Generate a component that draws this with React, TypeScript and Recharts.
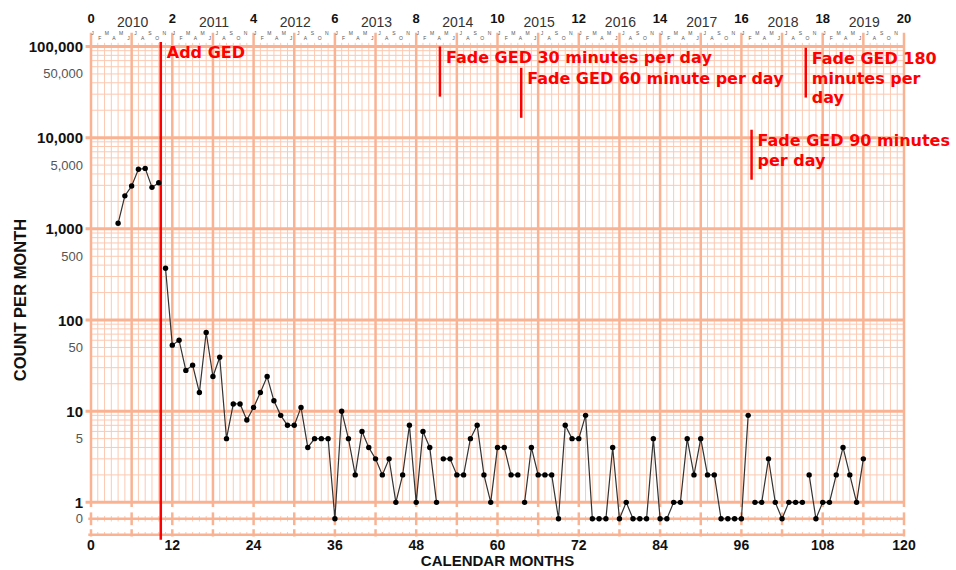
import React from 'react';
import { ComposedChart, Line, XAxis, YAxis, ReferenceLine } from 'recharts';

// monthly counts, first value is month 4 (May 2010)
const firstMonth = 4;
const counts = [
  1150, 2300, 2950, 4500, 4600, 2850, 3200, // baseline
  370, 53, 60, 28, 32, 16, 73, 24, 39, 5, 12, 12, 8, 11, 16, 24, 13, 9, 7, 7, 11, 4, 5, 5, 5,
  0, 10, 5, 2, 6, 4, 3, 2, 3, 1, 2, 7, 1, 6, 4, 1, // Add GED
  3, 3, 2, 2, 5, 7, 2, 1, 4, 4, 2, 2, // fade 30
  1, 4, 2, 2, 2, 0, 7, 5, 5, 9, 0, 0, 0, 4, 0, 1, 0, 0, 0, 5, 0, 0, 1, 1, 5, 2, 5, 2, 2, 0, 0, 0, 0, 9, // fade 60
  1, 1, 3, 1, 0, 1, 1, 1, // fade 90
  2, 0, 1, 1, 2, 4, 2, 1, 3, // fade 180
];
// first month of each new phase
const phaseStarts = [11, 52, 64, 98, 106];
const phaseLineMonths = [10.3, 51.5, 63.5, 97.5, 105.5];
const phaseLabels = [
  ['Add GED'],
  ['Fade GED 30 minutes per day'],
  ['Fade GED 60 minute per day'],
  ['Fade GED 90 minutes', 'per day'],
  ['Fade GED 180', 'minutes per', 'day'],
];
const years = ['2010', '2011', '2012', '2013', '2014', '2015', '2016', '2017', '2018', '2019'];
const monthLetters = ['J', 'F', 'M', 'A', 'M', 'J', 'J', 'A', 'S', 'O', 'N'];
const xTicks = [0, 12, 24, 36, 48, 60, 72, 84, 96, 108, 120];
const yMajor = [1, 10, 100, 1000, 10000, 100000];
const yMinor = [5, 50, 500, 5000, 50000];

const ZERO = -0.18;
const YMIN = -0.38;
const BOTTOM = -0.355;
const tf = (v: number) => (v === 0 ? ZERO : Math.log10(v));

// vertical extent of each phase-change line (log units)
const phaseLineSpan = [
  [5.05, -0.41],
  [5, 4.45],
  [4.766, 4.218],
  [4.087, 3.539],
  [4.986, 4.44],
];

const rows = Array.from({ length: 121 }, (_, m) => {
  const row: Record<string, number> = { m };
  const i = m - firstMonth;
  if (i >= 0 && i < counts.length) {
    const phase = phaseStarts.filter((s) => m >= s).length;
    row['p' + phase] = tf(counts[i]);
  }
  return row;
});

const THICK = '#f9b393';
const THIN = '#fcc9b2';
const FONT = '"Liberation Sans", Arial, sans-serif';

const yTicks = [ZERO, ...yMajor.map(tf), ...yMinor.map(tf)].sort((a, b) => a - b);
const topTicks = Array.from({ length: 121 }, (_, m) => m);

const horizThin: number[] = [];
for (let d = 0; d < 5; d++) for (let k = 2; k <= 9; k++) horizThin.push(Math.log10(k * 10 ** d));

function YTick(props: any) {
  const v = props.payload.value;
  const isZero = Math.abs(v - ZERO) < 1e-6;
  const n = Math.round(10 ** v);
  const major = !isZero && yMajor.includes(n);
  return (
    <text
      x={83}
      y={props.y + (major ? 5.5 : 4.5)}
      textAnchor="end"
      fontFamily={FONT}
      fontSize={major ? 15 : 13}
      fontWeight={major ? 'bold' : 'normal'}
      fill={major ? '#111' : '#555'}
    >
      {isZero ? '0' : n.toLocaleString('en-US')}
    </text>
  );
}

function TopTick(props: any) {
  const m = props.payload.value;
  const x = props.x;
  const idx = m % 12;
  return (
    <g>
      {idx === 0 && (
        <text x={x} y={23} textAnchor="middle" fontFamily={FONT} fontSize={13} fontWeight="bold" fill="#111">
          {m / 6}
        </text>
      )}
      {m < 120 && idx < 11 && (
        <text
          x={x + 1.5 + idx * 0.4}
          y={idx % 2 === 0 ? 35 : 40}
          textAnchor="middle"
          fontFamily={FONT}
          fontSize={5}
          fill="#555"
        >
          {monthLetters[idx]}
        </text>
      )}
      {idx === 6 && (
        <text x={x + 1} y={27} textAnchor="middle" fontFamily={FONT} fontSize={14} fill="#333">
          {years[Math.floor(m / 12)]}
        </text>
      )}
    </g>
  );
}

function BottomTick(props: any) {
  return (
    <text x={props.x} y={550} textAnchor="middle" fontFamily={FONT} fontSize={14} fontWeight="bold" fill="#111">
      {props.payload.value}
    </text>
  );
}

function phaseLabel(lines: string[]) {
  return (p: any) => {
    const vb = p.viewBox || {};
    return (
      <text
        x={vb.x + 6}
        y={vb.y + 16.5}
        fontFamily='"DejaVu Sans", Verdana, sans-serif'
        fontSize={16}
        fontWeight="bold"
        fill="#ff0000"
      >
        {lines.map((t, i) => (
          <tspan key={i} x={vb.x + 6} dy={i === 0 ? 0 : 19.5}>
            {t}
          </tspan>
        ))}
      </text>
    );
  };
}

export default function App() {
  return (
    <div style={{ position: 'absolute', left: 0, top: 0, width: 956, height: 570, background: '#fff' }}>
      <ComposedChart width={956} height={570} data={rows} margin={{ top: 0, right: 52, bottom: 0, left: 0 }}>
        <XAxis
          dataKey="m"
          type="number"
          domain={[0, 120]}
          ticks={xTicks}
          interval={0}
          height={33}
          axisLine={false}
          tickLine={false}
          tick={<BottomTick />}
          allowDataOverflow
          label={{
            content: () => (
              <text x={497.5} y={566} textAnchor="middle" fontFamily={FONT} fontSize={15} fontWeight="bold" fill="#111">
                CALENDAR MONTHS
              </text>
            ),
          }}
        />
        <XAxis
          xAxisId="top"
          orientation="top"
          dataKey="m"
          type="number"
          domain={[0, 120]}
          ticks={topTicks}
          interval={0}
          height={46.5}
          axisLine={false}
          tickLine={false}
          tick={<TopTick />}
          allowDataOverflow
        />
        <YAxis
          type="number"
          domain={[YMIN, 5]}
          ticks={yTicks}
          interval={0}
          width={91}
          axisLine={false}
          tickLine={false}
          tick={<YTick />}
          allowDataOverflow
          label={{
            content: () => (
              <text
                x={26}
                y={300}
                transform="rotate(-90 26 300)"
                textAnchor="middle"
                fontFamily={FONT}
                fontSize={16.5}
                fontWeight="bold"
                fill="#111"
              >
                COUNT PER MONTH
              </text>
            ),
          }}
        />

        {horizThin.map((v) => (
          <ReferenceLine key={'ht' + v} y={v} stroke={THIN} strokeWidth={1} />
        ))}
        {topTicks.filter((m) => m % 6 !== 0).map((m) => (
          <ReferenceLine
            key={'vt' + m}
            segment={[{ x: m, y: 5.04 }, { x: m, y: 0 }]}
            stroke={THIN}
            strokeWidth={1}
            ifOverflow="visible"
          />
        ))}
        {topTicks.map((m) => (
          <ReferenceLine
            key={'zt' + m}
            segment={[{ x: m, y: ZERO + (m % 6 ? 0.03 : 0.07) }, { x: m, y: ZERO - (m % 6 ? 0.03 : 0.07) }]}
            stroke={m % 6 ? THIN : THICK}
            strokeWidth={m % 6 ? 1 : 2.5}
          />
        ))}
        {topTicks.map((m) => (
          <ReferenceLine
            key={'bt' + m}
            segment={[{ x: m, y: BOTTOM + (m % 6 ? 0.03 : 0.06) }, { x: m, y: BOTTOM - (m % 6 ? 0.0 : 0.02) }]}
            stroke={m % 6 ? THIN : THICK}
            strokeWidth={m % 6 ? 1 : 2.5}
            ifOverflow="visible"
          />
        ))}
        {[ZERO, BOTTOM].map((v) => (
          <ReferenceLine
            key={'zl' + v}
            segment={[{ x: -0.4, y: v }, { x: 120, y: v }]}
            stroke={THICK}
            strokeWidth={2.5}
            ifOverflow="visible"
          />
        ))}
        {yMajor.map((n) => (
          <ReferenceLine
            key={'hm' + n}
            segment={[{ x: -0.8, y: tf(n) }, { x: 120, y: tf(n) }]}
            stroke={THICK}
            strokeWidth={3}
            ifOverflow="visible"
          />
        ))}
        {topTicks.filter((m) => m % 6 === 0).map((m) => (
          <ReferenceLine
            key={'vm' + m}
            segment={[{ x: m, y: 5.15 }, { x: m, y: -0.05 }]}
            stroke={THICK}
            strokeWidth={2.5}
            ifOverflow="visible"
          />
        ))}

        {phaseLineMonths.map((m, i) => (
          <ReferenceLine
            key={'ph' + i}
            segment={[{ x: m, y: phaseLineSpan[i][0] }, { x: m, y: phaseLineSpan[i][1] }]}
            stroke="#ff0000"
            strokeWidth={2.5}
            ifOverflow="visible"
            label={phaseLabel(phaseLabels[i])}
          />
        ))}

        {[0, 1, 2, 3, 4, 5].map((p) => (
          <Line
            key={'p' + p}
            dataKey={'p' + p}
            type="linear"
            stroke="#333"
            strokeWidth={1.2}
            dot={{ r: 2.7, fill: '#000', stroke: '#000', strokeWidth: 0 }}
            activeDot={false}
            connectNulls={false}
            isAnimationActive={false}
          />
        ))}
      </ComposedChart>
    </div>
  );
}
